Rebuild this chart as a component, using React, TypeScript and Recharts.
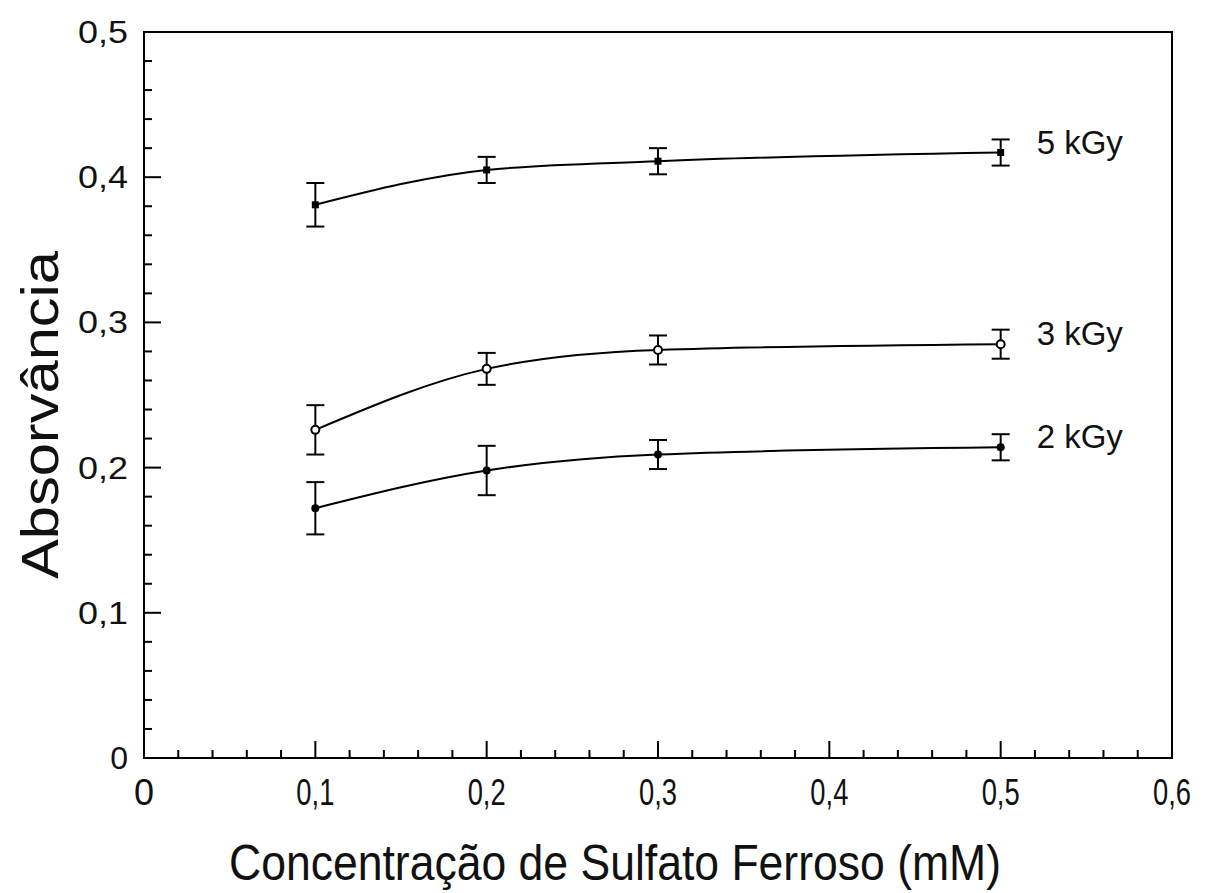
import React from 'react';
import { LineChart, Line, XAxis, YAxis, ErrorBar, ReferenceArea, LabelList, Label } from 'recharts';

const concentrations = [0.1, 0.2, 0.3, 0.5];
const abs5 = [0.381, 0.405, 0.411, 0.417];
const err5 = [0.015, 0.009, 0.009, 0.009];
const abs3 = [0.226, 0.268, 0.281, 0.285];
const err3 = [0.017, 0.011, 0.010, 0.010];
const abs2 = [0.172, 0.198, 0.209, 0.214];
const err2 = [0.018, 0.017, 0.010, 0.009];
const seriesNames = ['5 kGy', '3 kGy', '2 kGy'];

const xTicks = [0, 0.02, 0.04, 0.06, 0.08, 0.1, 0.12, 0.14, 0.16, 0.18, 0.2, 0.22, 0.24, 0.26, 0.28, 0.3,
  0.32, 0.34, 0.36, 0.38, 0.4, 0.42, 0.44, 0.46, 0.48, 0.5, 0.52, 0.54, 0.56, 0.58, 0.6];
const yTicks = [0, 0.02, 0.04, 0.06, 0.08, 0.1, 0.12, 0.14, 0.16, 0.18, 0.2, 0.22, 0.24, 0.26, 0.28, 0.3,
  0.32, 0.34, 0.36, 0.38, 0.4, 0.42, 0.44, 0.46, 0.48, 0.5];

const xTitle = 'Concentração de Sulfato Ferroso (mM)';
const yTitle = 'Absorvância';

const FONT = '"Liberation Sans", Arial, Helvetica, sans-serif';

const buildRows = (ys: number[], es: number[]) =>
  concentrations.map((x, i) => ({ x, y: ys[i], err: es[i] }));

const data5 = buildRows(abs5, err5);
const data3 = buildRows(abs3, err3);
const data2 = buildRows(abs2, err2);

const isMajor = (v: number) => Math.abs(v * 10 - Math.round(v * 10)) < 1e-6;
const fmt = (v: number) => (v === 0 ? '0' : v.toFixed(1).replace('.', ','));

const XTick = (props: any) => {
  const { x, y, payload } = props;
  const v = payload.value as number;
  const major = isMajor(v);
  return (
    <g>
      <line x1={x} x2={x} y1={y} y2={y - (major ? 17 : 8)} stroke="#000" strokeWidth={2} />
      {major && (
        <text x={x} y={y + 47} textAnchor="middle" fontSize={36} fontFamily={FONT} fill="#111"
          {...(v !== 0 ? { textLength: 38, lengthAdjust: 'spacingAndGlyphs' } : {})}>
          {fmt(v)}
        </text>
      )}
    </g>
  );
};

const YTick = (props: any) => {
  const { x, y, payload } = props;
  const v = payload.value as number;
  const major = isMajor(v);
  return (
    <g>
      <line x1={x} x2={x + (major ? 17 : 8)} y1={y} y2={y} stroke="#000" strokeWidth={2} />
      {major && (
        <text x={x - 16} y={y + 11} textAnchor="end" fontSize={32} fontFamily={FONT} fill="#111"
          {...(v !== 0 ? { textLength: 50, lengthAdjust: 'spacingAndGlyphs' } : {})}>
          {fmt(v)}
        </text>
      )}
    </g>
  );
};

const squareDot = (p: any) => (
  <rect key={`s-${p.index}`} x={p.cx - 3.5} y={p.cy - 3.5} width={7} height={7} fill="#000" />
);
const openDot = (p: any) => (
  <circle key={`o-${p.index}`} cx={p.cx} cy={p.cy} r={4} fill="#fff" stroke="#000" strokeWidth={2} />
);
const filledDot = (p: any) => (
  <circle key={`f-${p.index}`} cx={p.cx} cy={p.cy} r={4} fill="#000" />
);

const endLabel = (name: string, last: number) => (p: any) => {
  if (p.index !== last) return null;
  return (
    <text key={`l-${name}`} x={p.x + 36} y={p.y + 1} fontSize={33} fontFamily={FONT} fill="#111">
      {name}
    </text>
  );
};

const XTitle = (props: any) => {
  const vb = props.viewBox;
  return (
    <text x={vb.x + vb.width / 2 - 43} y={vb.y + 122} textAnchor="middle" fontSize={50}
      fontFamily={FONT} fill="#111" textLength={772} lengthAdjust="spacingAndGlyphs">
      {xTitle}
    </text>
  );
};

const YTitle = (props: any) => {
  const vb = props.viewBox;
  const cx = 50;
  const cy = vb.y + vb.height / 2 + 20;
  return (
    <text x={cx} y={cy} transform={`rotate(-90 ${cx} ${cy})`} textAnchor="middle" fontSize={52}
      fontFamily={FONT} fill="#111" textLength={328} lengthAdjust="spacingAndGlyphs">
      {yTitle}
    </text>
  );
};

export default function App() {
  return (
    <div style={{ width: 1195, height: 885, background: '#fff' }}>
      <LineChart width={1195} height={885} margin={{ top: 24, right: 31, left: 0, bottom: 0 }}>
        <XAxis
          type="number"
          dataKey="x"
          domain={[0, 0.6]}
          ticks={xTicks}
          interval={0}
          tickSize={0}
          tickMargin={0}
          tickLine={false}
          tick={<XTick />}
          axisLine={{ stroke: '#000', strokeWidth: 2 }}
          height={135}
          allowDataOverflow
        >
          <Label content={<XTitle />} />
        </XAxis>
        <YAxis
          type="number"
          domain={[0, 0.5]}
          ticks={yTicks}
          interval={0}
          tickSize={0}
          tickMargin={0}
          tickLine={false}
          tick={<YTick />}
          axisLine={{ stroke: '#000', strokeWidth: 2 }}
          width={136}
          allowDataOverflow
        >
          <Label content={<YTitle />} />
        </YAxis>
        <ReferenceArea x1={0} x2={0.6} y1={0} y2={0.5} fill="none" stroke="#000" strokeWidth={2} />
        <Line data={data5} dataKey="y" type="monotone" stroke="#000" strokeWidth={2}
          dot={squareDot} activeDot={false} isAnimationActive={false}>
          <ErrorBar dataKey="err" direction="y" width={9} stroke="#000" strokeWidth={2} />
          <LabelList dataKey="y" content={endLabel(seriesNames[0], concentrations.length - 1)} />
        </Line>
        <Line data={data3} dataKey="y" type="monotone" stroke="#000" strokeWidth={2}
          dot={openDot} activeDot={false} isAnimationActive={false}>
          <ErrorBar dataKey="err" direction="y" width={9} stroke="#000" strokeWidth={2} />
          <LabelList dataKey="y" content={endLabel(seriesNames[1], concentrations.length - 1)} />
        </Line>
        <Line data={data2} dataKey="y" type="monotone" stroke="#000" strokeWidth={2}
          dot={filledDot} activeDot={false} isAnimationActive={false}>
          <ErrorBar dataKey="err" direction="y" width={9} stroke="#000" strokeWidth={2} />
          <LabelList dataKey="y" content={endLabel(seriesNames[2], concentrations.length - 1)} />
        </Line>
      </LineChart>
    </div>
  );
}
